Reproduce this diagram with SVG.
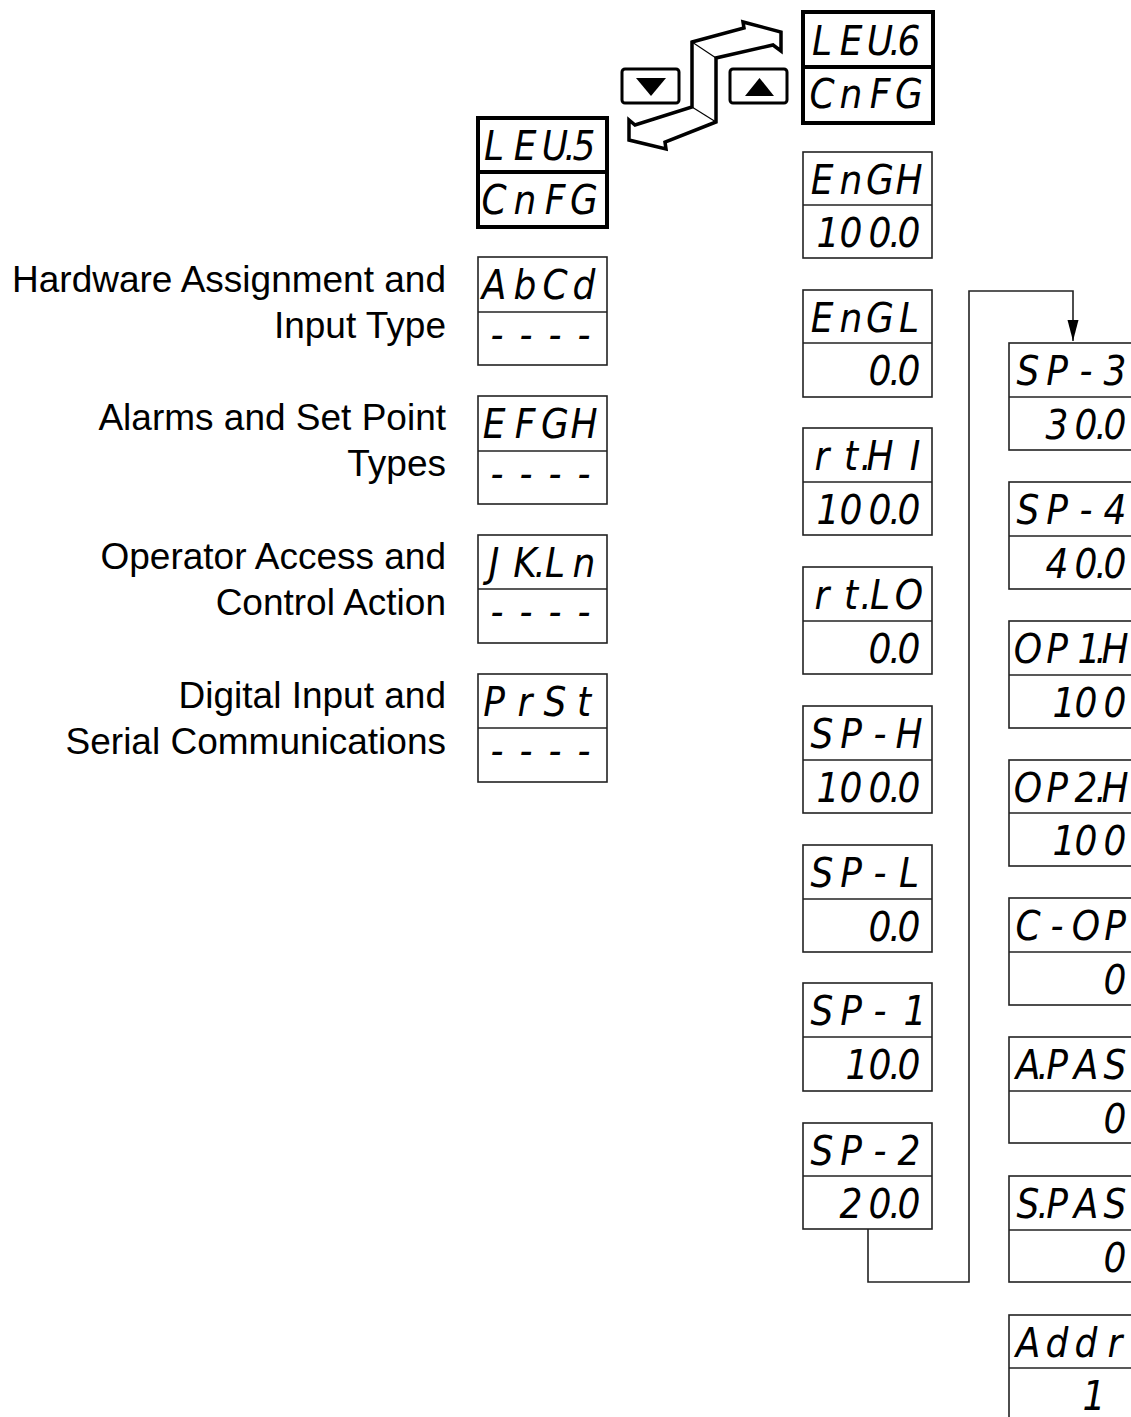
<svg xmlns="http://www.w3.org/2000/svg" width="1131" height="1417" viewBox="0 0 1131 1417">
<defs>
<style>
.bx{fill:#fff;stroke:#222;stroke-width:1.6}
.tk{fill:#fff;stroke:#000;stroke-width:4}
.dv{stroke:#222;stroke-width:1.6}
.dvt{stroke:#000;stroke-width:4}
.sg{font-family:"DejaVu Sans Condensed","DejaVu Sans","Liberation Sans",sans-serif;font-stretch:condensed;font-style:oblique;font-size:40px;text-anchor:middle;fill:#000}
.lb{font-family:"Liberation Sans",Arial,sans-serif;font-size:37px;text-anchor:end;fill:#000}
.cn{fill:none;stroke:#222;stroke-width:1.6}
.key{fill:#fff;stroke:#000;stroke-width:3}
</style>
<marker id="ah" markerUnits="userSpaceOnUse" markerWidth="22" markerHeight="12" refX="21" refY="6" orient="auto">
<path d="M0,0.5 L21,6 L0,11.5 z" fill="#000"/>
</marker>
</defs>
<rect width="1131" height="1417" fill="#fff"/>

<g id="labels">
<text class="lb" x="446" y="292">Hardware Assignment and</text>
<text class="lb" x="446" y="338">Input Type</text>
<text class="lb" x="446" y="430">Alarms and Set Point</text>
<text class="lb" x="446" y="476">Types</text>
<text class="lb" x="446" y="569">Operator Access and</text>
<text class="lb" x="446" y="615">Control Action</text>
<text class="lb" x="446" y="708">Digital Input and</text>
<text class="lb" x="446" y="754">Serial Communications</text>
</g>

<g id="keys">
<rect class="key" x="622" y="69" width="57" height="34" rx="3"/>
<polygon points="636,78 666,78 651,96" fill="#000"/>
<rect class="key" x="730" y="69" width="57" height="34" rx="3"/>
<polygon points="745,96 774,96 759.5,78" fill="#000"/>
<polygon points="692,42 744,28 743,22 781,32 781,51 773,45 716,58 716,122 665,142 666,149 629,140 629,120 635,125 692,107" fill="#fff" stroke="#000" stroke-width="3.5" stroke-linejoin="miter"/>
<line x1="692" y1="42" x2="716" y2="58" stroke="#000" stroke-width="1.2"/>
<line x1="692" y1="107" x2="716" y2="122" stroke="#000" stroke-width="1.2"/>
</g>

<g id="connectors">
<path class="cn" d="M868,1229 V1282 H969 V291 H1073 V341" marker-end="url(#ah)"/>
</g>

<!-- left column -->
<g id="lev5">
<rect class="tk" x="478" y="118" width="129" height="109"/>
<line class="dvt" x1="478" y1="172" x2="607" y2="172"/>
<text class="sg" x="494 525 555 570 584" y="160">LEU.5</text>
<text class="sg" x="494 525 555 584" y="214">CnFG</text>
</g>
<g id="abcd">
<rect class="bx" x="478" y="257" width="129" height="108"/>
<line class="dv" x1="478" y1="312" x2="607" y2="312"/>
<text class="sg" x="494 525 555 584" y="299">AbCd</text>
<text class="sg" x="497 526 555 584" y="349">----</text>
</g>
<g id="efgh">
<rect class="bx" x="478" y="396" width="129" height="108"/>
<line class="dv" x1="478" y1="451" x2="607" y2="451"/>
<text class="sg" x="494 525 555 584" y="438">EFGH</text>
<text class="sg" x="497 526 555 584" y="488">----</text>
</g>
<g id="jkln">
<rect class="bx" x="478" y="535" width="129" height="108"/>
<line class="dv" x1="478" y1="589" x2="607" y2="589"/>
<text class="sg" x="494 525 540 555 584" y="577">JK.Ln</text>
<text class="sg" x="497 526 555 584" y="626">----</text>
</g>
<g id="prst">
<rect class="bx" x="478" y="674" width="129" height="108"/>
<line class="dv" x1="478" y1="728" x2="607" y2="728"/>
<text class="sg" x="494 525 555 584" y="716">PrSt</text>
<text class="sg" x="497 526 555 584" y="765">----</text>
</g>

<!-- middle column -->
<g id="lev6">
<rect class="tk" x="803" y="12" width="130" height="111"/>
<line class="dvt" x1="803" y1="67" x2="933" y2="67"/>
<text class="sg" x="822 851 880 895 909" y="55">LEU.6</text>
<text class="sg" x="822 851 880 909" y="108">CnFG</text>
</g>
<g id="engh">
<rect class="bx" x="803" y="152" width="129" height="106"/>
<line class="dv" x1="803" y1="205" x2="932" y2="205"/>
<text class="sg" x="822 851 880 909" y="194">EnGH</text>
<text class="sg" x="828 851 880 895 909" y="247">100.0</text>
</g>
<g id="engl">
<rect class="bx" x="803" y="290" width="129" height="107"/>
<line class="dv" x1="803" y1="343" x2="932" y2="343"/>
<text class="sg" x="822 851 880 909" y="332">EnGL</text>
<text class="sg" x="880 895 909" y="385">0.0</text>
</g>
<g id="rthi">
<rect class="bx" x="803" y="428" width="129" height="107"/>
<line class="dv" x1="803" y1="482" x2="932" y2="482"/>
<text class="sg" x="822 851 866 880 915" y="470">rt.HI</text>
<text class="sg" x="828 851 880 895 909" y="524">100.0</text>
</g>
<g id="rtlo">
<rect class="bx" x="803" y="567" width="129" height="107"/>
<line class="dv" x1="803" y1="621" x2="932" y2="621"/>
<text class="sg" x="822 851 866 880 909" y="609">rt.LO</text>
<text class="sg" x="880 895 909" y="663">0.0</text>
</g>
<g id="sph">
<rect class="bx" x="803" y="706" width="129" height="107"/>
<line class="dv" x1="803" y1="760" x2="932" y2="760"/>
<text class="sg" x="822 851 880 909" y="748">SP-H</text>
<text class="sg" x="828 851 880 895 909" y="802">100.0</text>
</g>
<g id="spl">
<rect class="bx" x="803" y="845" width="129" height="107"/>
<line class="dv" x1="803" y1="899" x2="932" y2="899"/>
<text class="sg" x="822 851 880 909" y="887">SP-L</text>
<text class="sg" x="880 895 909" y="941">0.0</text>
</g>
<g id="sp1">
<rect class="bx" x="803" y="983" width="129" height="108"/>
<line class="dv" x1="803" y1="1037" x2="932" y2="1037"/>
<text class="sg" x="822 851 880 915" y="1025">SP-1</text>
<text class="sg" x="857 880 895 909" y="1079">10.0</text>
</g>
<g id="sp2">
<rect class="bx" x="803" y="1123" width="129" height="106"/>
<line class="dv" x1="803" y1="1176" x2="932" y2="1176"/>
<text class="sg" x="822 851 880 909" y="1165">SP-2</text>
<text class="sg" x="851 880 895 909" y="1218">20.0</text>
</g>

<!-- right column -->
<g id="sp3">
<rect class="bx" x="1009" y="343" width="130" height="107"/>
<line class="dv" x1="1009" y1="397" x2="1139" y2="397"/>
<text class="sg" x="1028 1057 1086 1115" y="385">SP-3</text>
<text class="sg" x="1057 1086 1101 1115" y="439">30.0</text>
</g>
<g id="sp4">
<rect class="bx" x="1009" y="482" width="130" height="107"/>
<line class="dv" x1="1009" y1="536" x2="1139" y2="536"/>
<text class="sg" x="1028 1057 1086 1115" y="524">SP-4</text>
<text class="sg" x="1057 1086 1101 1115" y="578">40.0</text>
</g>
<g id="op1h">
<rect class="bx" x="1009" y="621" width="130" height="107"/>
<line class="dv" x1="1009" y1="675" x2="1139" y2="675"/>
<text class="sg" x="1028 1057 1089 1101 1115" y="663">OP1.H</text>
<text class="sg" x="1064 1086 1115" y="717">100</text>
</g>
<g id="op2h">
<rect class="bx" x="1009" y="760" width="130" height="106"/>
<line class="dv" x1="1009" y1="813" x2="1139" y2="813"/>
<text class="sg" x="1028 1057 1086 1101 1115" y="802">OP2.H</text>
<text class="sg" x="1064 1086 1115" y="855">100</text>
</g>
<g id="cop">
<rect class="bx" x="1009" y="898" width="130" height="107"/>
<line class="dv" x1="1009" y1="952" x2="1139" y2="952"/>
<text class="sg" x="1028 1057 1086 1115" y="940">C-OP</text>
<text class="sg" x="1115" y="994">0</text>
</g>
<g id="apas">
<rect class="bx" x="1009" y="1037" width="130" height="106"/>
<line class="dv" x1="1009" y1="1091" x2="1139" y2="1091"/>
<text class="sg" x="1028 1043 1057 1086 1115" y="1079">A.PAS</text>
<text class="sg" x="1115" y="1133">0</text>
</g>
<g id="spas">
<rect class="bx" x="1009" y="1176" width="130" height="106"/>
<line class="dv" x1="1009" y1="1230" x2="1139" y2="1230"/>
<text class="sg" x="1028 1043 1057 1086 1115" y="1218">S.PAS</text>
<text class="sg" x="1115" y="1272">0</text>
</g>
<g id="addr">
<rect class="bx" x="1009" y="1315" width="130" height="106"/>
<line class="dv" x1="1009" y1="1368" x2="1139" y2="1368"/>
<text class="sg" x="1028 1057 1086 1115" y="1357">Addr</text>
<text class="sg" x="1094" y="1410">1</text>
</g>
</svg>
